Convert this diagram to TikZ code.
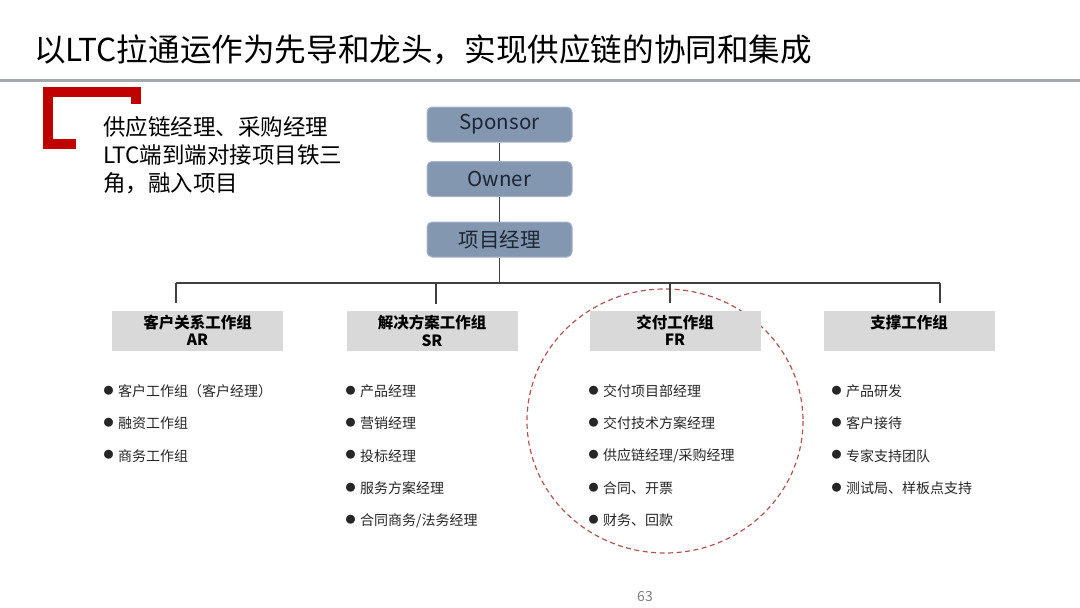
\documentclass[tikz,border=0pt]{standalone}
\usepackage{fontspec}
\setmainfont{Noto Sans CJK SC}
\definecolor{leadfill}{HTML}{8497B0}
\definecolor{leadline}{HTML}{A7B4C6}
\definecolor{leadtext}{HTML}{1C2533}
\definecolor{groupfill}{HTML}{D9D9D9}
\definecolor{brand}{HTML}{C00000}
\definecolor{ringred}{HTML}{B5524F}
\definecolor{rulegray}{HTML}{A3A9AE}
\newcommand{\dotmark}{\raisebox{2.2pt}{\fontsize{10}{10}\selectfont ●}\hspace{4.5pt}}
\tikzset{
  lead/.style={draw=leadline, line width=1pt, fill=leadfill, rounded corners=5pt,
    minimum width=145pt, minimum height=35pt, text=leadtext, font=\fontsize{20.5}{24}\selectfont},
  group/.style={fill=groupfill, minimum width=171pt, minimum height=40pt, inner sep=1pt,
    align=center, font=\fontsize{15.5}{17.5}\selectfont\bfseries},
  member/.style={anchor=west, inner sep=0pt, text=black!85, font=\fontsize{14}{16}\selectfont},
  link/.style={line width=1.3pt, draw=black!75},
}
\begin{document}
\begin{tikzpicture}[x=1pt,y=-1pt]
  \useasboundingbox (0,0) rectangle (1080,608);
  \node[anchor=west, inner sep=0pt, font=\fontsize{31.6}{36}\selectfont] (title) at (34,50)
    {以LTC拉通运作为先导和龙头，实现供应链的协同和集成};
  \draw[rulegray, line width=3pt] (0,80) -- (1080,80);
  \draw[brand, line width=10pt] (136,104) -- (136,92) -- (48,92) -- (48,144) -- (76,144);
  \node[anchor=north west, inner sep=0pt, align=left, font=\fontsize{22.5}{28}\selectfont] (note) at (103,116)
    {供应链经理、采购经理\\LTC端到端对接项目铁三\\角，融入项目};
  \draw[ringred, line width=1.2pt, dash pattern=on 5pt off 3.5pt] (665,421) ellipse [x radius=138, y radius=132];
  \node[lead] (sponsor) at (499.5,124.5) {Sponsor};
  \node[lead] (owner) at (499.5,179) {Owner};
  \node[lead] (pm) at (499.5,239.5) {项目经理};
  \node[group] (ar) at (197.5,330.5) {客户关系工作组\\AR};
  \node[group] (sr) at (432,331) {解决方案工作组\\SR};
  \node[group] (fr) at (675,330.5) {交付工作组\\FR};
  \node[group] (sup) at (909,330.5) {支撑工作组\\\phantom{SR}};
  \coordinate (bus) at (499.5,283);
  \coordinate (arJoin) at (176,283);
  \coordinate (srJoin) at (436,283);
  \coordinate (frJoin) at (670,283);
  \coordinate (supJoin) at (940,283);
  \draw[link] (sponsor) -- (owner);
  \draw[link] (owner) -- (pm);
  \draw[link] (pm) -- (bus);
  \draw[link] (arJoin) -- (supJoin);
  \foreach \g in {ar,sr,fr,sup}
    \draw[link, shorten >=7pt] (\g Join) -- (\g Join |- \g.north);
  \foreach \t [count=\i from 0] in {客户工作组（客户经理）,融资工作组,商务工作组}
    \node[member] (ar-\i) at (103.5,391+32.4*\i) {\dotmark\t};
  \foreach \t [count=\i from 0] in {产品经理,营销经理,投标经理,服务方案经理,合同商务/法务经理}
    \node[member] (sr-\i) at (345.5,391+32.4*\i) {\dotmark\t};
  \foreach \t [count=\i from 0] in {交付项目部经理,交付技术方案经理,供应链经理/采购经理,合同、开票,财务、回款}
    \node[member] (fr-\i) at (588.5,391+32.4*\i) {\dotmark\t};
  \foreach \t [count=\i from 0] in {产品研发,客户接待,专家支持团队,测试局、样板点支持}
    \node[member] (sup-\i) at (831.5,391+32.4*\i) {\dotmark\t};
  \node[text=black!50, font=\fontsize{14}{16}\selectfont] (page) at (645,597) {63};
\end{tikzpicture}
\end{document}
